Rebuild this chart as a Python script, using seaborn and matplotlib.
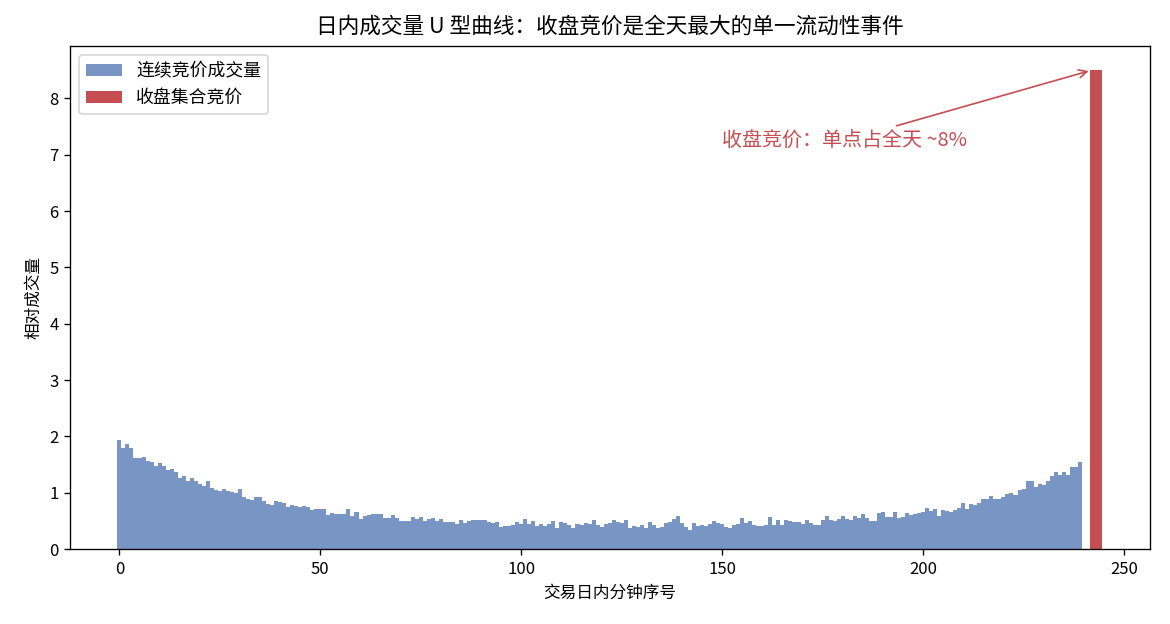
import numpy as np
import pandas as pd
import matplotlib
matplotlib.use("Agg")
import matplotlib.pyplot as plt
from matplotlib.patches import Patch
import seaborn as sns

plt.rcParams['font.family'] = ['Noto Sans CJK SC', 'DejaVu Sans']
plt.rcParams['axes.unicode_minus'] = False

# continuous-auction relative volume per minute (0..239)
continuous_volume = [
    1.93, 1.80, 1.86, 1.80, 1.625, 1.61, 1.64, 1.57, 1.55, 1.48,
    1.52, 1.48, 1.41, 1.43, 1.375, 1.27, 1.30, 1.21, 1.27, 1.20,
    1.16, 1.125, 1.20, 1.09, 1.05, 1.04, 1.07, 1.04, 1.02, 1.00,
    1.07, 0.93, 0.89, 0.875, 0.93, 0.93, 0.86, 0.80, 0.79, 0.86,
    0.84, 0.82, 0.75, 0.79, 0.77, 0.75, 0.77, 0.75, 0.70, 0.71,
    0.71, 0.71, 0.61, 0.64, 0.625, 0.625, 0.625, 0.71, 0.59, 0.66,
    0.54, 0.59, 0.61, 0.625, 0.625, 0.625, 0.55, 0.55, 0.61, 0.55,
    0.50, 0.50, 0.50, 0.57, 0.54, 0.57, 0.50, 0.54, 0.55, 0.50,
    0.54, 0.48, 0.48, 0.48, 0.45, 0.52, 0.46, 0.50, 0.52, 0.52,
    0.52, 0.52, 0.48, 0.46, 0.48, 0.39, 0.41, 0.41, 0.43, 0.48,
    0.45, 0.54, 0.45, 0.50, 0.41, 0.45, 0.41, 0.45, 0.50, 0.375,
    0.48, 0.46, 0.43, 0.375, 0.45, 0.43, 0.46, 0.45, 0.52, 0.43,
    0.39, 0.45, 0.46, 0.52, 0.48, 0.46, 0.52, 0.375, 0.41, 0.39,
    0.43, 0.375, 0.48, 0.43, 0.375, 0.39, 0.46, 0.48, 0.54, 0.59,
    0.46, 0.39, 0.34, 0.46, 0.41, 0.43, 0.41, 0.45, 0.50, 0.46,
    0.45, 0.39, 0.375, 0.43, 0.45, 0.55, 0.46, 0.50, 0.43, 0.41,
    0.41, 0.43, 0.57, 0.43, 0.52, 0.43, 0.52, 0.50, 0.48, 0.48,
    0.45, 0.52, 0.46, 0.43, 0.43, 0.52, 0.59, 0.52, 0.50, 0.54,
    0.59, 0.54, 0.52, 0.59, 0.55, 0.625, 0.55, 0.50, 0.50, 0.64,
    0.66, 0.57, 0.57, 0.66, 0.55, 0.57, 0.64, 0.61, 0.625, 0.64,
    0.66, 0.73, 0.68, 0.71, 0.59, 0.70, 0.68, 0.66, 0.70, 0.73,
    0.82, 0.71, 0.80, 0.79, 0.82, 0.89, 0.89, 0.95, 0.89, 0.89,
    0.93, 0.98, 1.00, 0.96, 1.05, 1.07, 1.21, 1.21, 1.11, 1.16,
    1.14, 1.21, 1.30, 1.375, 1.32, 1.36, 1.32, 1.46, 1.46, 1.54,
]
minutes = list(range(len(continuous_volume)))

closing_minute = [243]
closing_volume = [8.5]

title = "日内成交量 U 型曲线：收盘竞价是全天最大的单一流动性事件"
xlabel = "交易日内分钟序号"
ylabel = "相对成交量"
label_cont = "连续竞价成交量"
label_close = "收盘集合竞价"
annot_text = "收盘竞价：单点占全天 ~8%"

blue = "#4C72B0"
red = "#C44E52"

df = pd.DataFrame({"minute": minutes, "volume": continuous_volume})

fig, ax = plt.subplots(figsize=(9.75, 5.2), dpi=120)
sns.histplot(data=df, x="minute", weights="volume", discrete=True,
             color=blue, alpha=0.75, linewidth=0, ax=ax)
ax.bar(closing_minute, closing_volume, width=3, color=red, linewidth=0,
       label=label_close)

ax.set_title(title, fontsize=13, pad=8)
ax.set_xlabel(xlabel, fontsize=10)
ax.set_ylabel(ylabel, fontsize=10)
ax.set_xlim(-12.25, 256.5)
ax.set_ylim(0, 8.925)
ax.tick_params(labelsize=10)

ax.annotate(annot_text, xy=(closing_minute[0] - 1, closing_volume[0]),
            xytext=(150, 7.25), color=red, fontsize=12,
            ha="left", va="center",
            arrowprops=dict(arrowstyle="->", color=red, lw=1))

handles = [Patch(facecolor=blue, alpha=0.75, linewidth=0, label=label_cont),
           Patch(facecolor=red, linewidth=0, label=label_close)]
ax.legend(handles=handles, loc="upper left", fontsize=10.7)

fig.subplots_adjust(left=0.06, right=0.983, top=0.926, bottom=0.12)
fig.savefig("out.png", dpi=120)
